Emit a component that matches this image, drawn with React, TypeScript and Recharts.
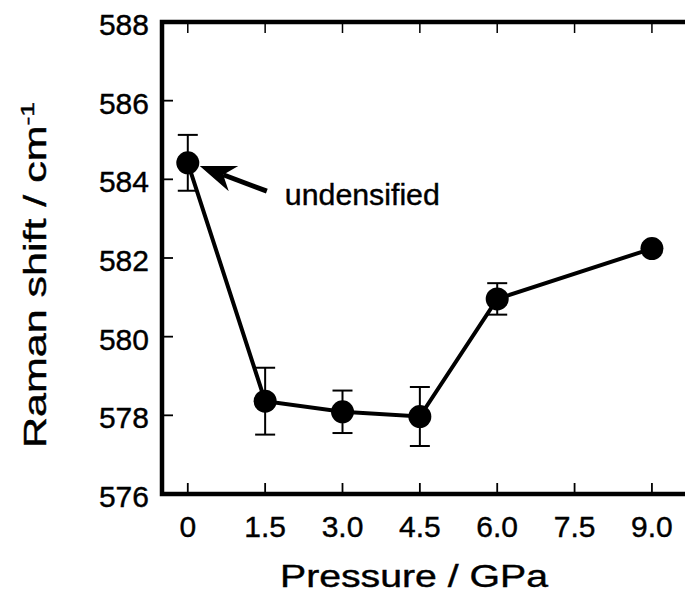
import React from "react";
import { LineChart, Line, XAxis, YAxis, ErrorBar, ReferenceLine, ReferenceDot, ReferenceArea } from "recharts";

const pressure = [0, 1.5, 3.0, 4.5, 6.0, 9.0];
const ramanShift = [584.42, 578.36, 578.09, 577.97, 580.96, 582.24];
const shiftError = [0.71, 0.85, 0.54, 0.75, 0.4, 0];

const xTicks = [0, 1.5, 3.0, 4.5, 6.0, 7.5, 9.0];
const xTickLabels = ["0", "1.5", "3.0", "4.5", "6.0", "7.5", "9.0"];
const yTicks = [576, 578, 580, 582, 584, 586, 588];
const xDomain = [-0.5, 10];
const yDomain = [576, 588];

const data = pressure.map((p, i) => ({ p, v: ramanShift[i], e: shiftError[i] }));

const FONT = "'Liberation Sans', Arial, Helvetica, sans-serif";

const BottomTick = (props: any) => {
  const { x, y, payload } = props;
  const idx = xTicks.indexOf(payload.value);
  return (
    <g>
      <line x1={x} y1={y} x2={x} y2={y - 11} stroke="#000" strokeWidth={1.8} />
      <text x={x} y={y + 43} textAnchor="middle" fontSize={30} fontFamily={FONT} fill="#000" stroke="#000" strokeWidth={0.4}>
        {idx >= 0 ? xTickLabels[idx] : String(payload.value)}
      </text>
    </g>
  );
};

const LeftTick = (props: any) => {
  const { x, y, payload } = props;
  return (
    <g>
      <line x1={x} y1={y} x2={x + 11} y2={y} stroke="#000" strokeWidth={1.8} />
      <text x={x - 13} y={y + 13} textAnchor="end" fontSize={30} fontFamily={FONT} fill="#000" stroke="#000" strokeWidth={0.4}>
        {String(payload.value)}
      </text>
    </g>
  );
};

const TopTickShape = (props: any) => {
  const { x1, y1, y2 } = props;
  const top = Math.min(y1, y2);
  return <line x1={x1} y1={top} x2={x1} y2={top + 11} stroke="#000" strokeWidth={1.5} />;
};

const RightTickShape = (props: any) => {
  const { x1, x2, y1 } = props;
  const right = Math.max(x1, x2);
  return <line x1={right} y1={y1} x2={right - 11} y2={y1} stroke="#000" strokeWidth={1.5} />;
};

const XLabel = () => (
  <text x={406} y={579} textAnchor="middle" fontSize={31} fontFamily={FONT} fill="#000" stroke="#000" strokeWidth={0.4} textLength={268} lengthAdjust="spacingAndGlyphs">
    Pressure / GPa
  </text>
);

const YLabel = () => (
  <text
    x={38}
    y={267}
    transform="rotate(-90, 38, 267)"
    textAnchor="middle"
    fontSize={31}
    fontFamily={FONT}
    fill="#000"
    stroke="#000"
    strokeWidth={0.4}
    textLength={346}
    lengthAdjust="spacingAndGlyphs"
  >
    Raman shift / cm
    <tspan dy={-12} fontSize={19}>-1</tspan>
  </text>
);

const ArrowShape = (props: any) => {
  const { x1, y1, x2, y2 } = props;
  const dx = x2 - x1;
  const dy = y2 - y1;
  const len = Math.sqrt(dx * dx + dy * dy) || 1;
  const ux = dx / len;
  const uy = dy / len;
  const px = -uy;
  const py = ux;
  const headLen = 36;
  const notch = 25;
  const half = 13.5;
  const bx = x2 - ux * headLen;
  const by = y2 - uy * headLen;
  const nx = x2 - ux * notch;
  const ny = y2 - uy * notch;
  const pts = [
    [x2, y2],
    [bx + px * half, by + py * half],
    [nx, ny],
    [bx - px * half, by - py * half],
  ]
    .map((q) => q.join(","))
    .join(" ");
  return (
    <g>
      <line x1={x1} y1={y1} x2={nx} y2={ny} stroke="#000" strokeWidth={5} />
      <polygon points={pts} fill="#000" />
    </g>
  );
};

const AnnotationText = (props: any) => {
  const { cx, cy } = props;
  return (
    <text x={cx} y={cy} textAnchor="start" fontSize={30} fontFamily={FONT} fill="#000" stroke="#000" strokeWidth={0.4} textLength={155} lengthAdjust="spacingAndGlyphs">
      undensified
    </text>
  );
};

export default function App() {
  return (
    <div style={{ width: 685, height: 595, overflow: "hidden" }}>
      <LineChart width={720} height={595} data={data} margin={{ top: 14, right: 24.5, bottom: 0, left: 0 }}>
        <XAxis
          dataKey="p"
          type="number"
          domain={xDomain}
          ticks={xTicks}
          height={109}
          tickSize={0}
          tickMargin={0}
          tickLine={false}
          tick={<BottomTick />}
          axisLine={false}
          label={<XLabel />}
        />
        <YAxis
          type="number"
          domain={yDomain}
          ticks={yTicks}
          width={154}
          tickSize={0}
          tickMargin={0}
          tickLine={false}
          tick={<LeftTick />}
          axisLine={false}
          label={<YLabel />}
        />
        {xTicks.map((t) => (
          <ReferenceLine key={`tt${t}`} x={t} shape={<TopTickShape />} ifOverflow="visible" />
        ))}
        {yTicks.map((t) => (
          <ReferenceLine key={`rt${t}`} y={t} shape={<RightTickShape />} ifOverflow="visible" />
        ))}
        <ReferenceArea
          x1={xDomain[0]}
          x2={xDomain[1]}
          y1={yDomain[0]}
          y2={yDomain[1]}
          fill="none"
          fillOpacity={0}
          stroke="#000"
          strokeWidth={4.5}
          strokeOpacity={1}
          ifOverflow="visible"
        />
        <ReferenceLine
          segment={[
            { x: 1.533, y: 583.7 },
            { x: 0.233, y: 584.34 },
          ]}
          shape={<ArrowShape />}
          ifOverflow="visible"
        />
        <ReferenceDot x={1.882} y={583.35} r={0} shape={<AnnotationText />} ifOverflow="visible" />
        <Line
          dataKey="v"
          stroke="#000"
          strokeWidth={4}
          dot={{ r: 11.5, fill: "#000", stroke: "none" }}
          activeDot={false}
          isAnimationActive={false}
        >
          <ErrorBar dataKey="e" width={10} stroke="#000" strokeWidth={2} direction="y" isAnimationActive={false} />
        </Line>
      </LineChart>
    </div>
  );
}
